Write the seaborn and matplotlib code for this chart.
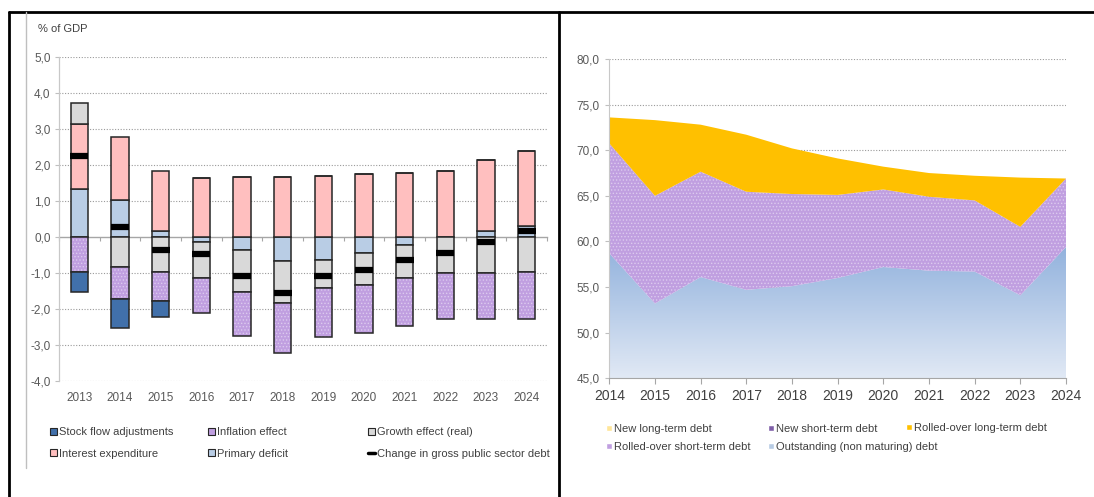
import numpy as np
import matplotlib
matplotlib.use("Agg")
import matplotlib.pyplot as plt
from matplotlib.lines import Line2D
from matplotlib.patches import Patch
from matplotlib.colors import LinearSegmentedColormap
from matplotlib.ticker import FuncFormatter
import seaborn as sns

# Left panel: drivers of the change in gross public debt (% of GDP)
years_left = [str(y) for y in range(2013, 2025)]
primary_deficit = [1.33, 1.02, 0.17, -0.13, -0.37, -0.67, -0.65, -0.46, -0.22, 0.0, 0.15, 0.30]
interest_expenditure = [1.81, 1.75, 1.65, 1.62, 1.65, 1.65, 1.70, 1.75, 1.77, 1.84, 1.97, 2.08]
growth_effect = [0.58, -0.84, -0.97, -1.02, -1.16, -1.16, -0.76, -0.88, -0.91, -0.99, -0.99, -0.97]
inflation_effect = [-0.97, -0.88, -0.81, -0.97, -1.21, -1.39, -1.37, -1.33, -1.33, -1.30, -1.30, -1.30]
stock_flow = [-0.55, -0.81, -0.44, 0.0, 0.0, 0.0, 0.0, 0.0, 0.0, 0.0, 0.0, 0.0]
debt_change = [2.25, 0.26, -0.37, -0.48, -1.09, -1.55, -1.09, -0.92, -0.64, -0.45, -0.15, 0.16]

# Right panel: composition of gross debt
years_right = list(range(2014, 2025))
outstanding_debt = [58.7, 53.2, 56.1, 54.7, 55.1, 56.0, 57.2, 56.8, 56.7, 54.1, 59.4]
rolled_short = [12.05, 11.8, 11.55, 10.75, 10.1, 9.1, 8.5, 8.1, 7.8, 7.5, 7.5]
rolled_long = [2.85, 8.3, 5.15, 6.25, 5.0, 4.0, 2.5, 2.6, 2.7, 5.4, 0.0]
new_short = [0.0] * 11
new_long = [0.0] * 11

sns.set_style("white")
plt.rcParams['font.family'] = ['Liberation Sans Narrow', 'Liberation Sans', 'DejaVu Sans']
plt.rcParams['hatch.linewidth'] = 0.6

W, H = 1094, 497
fig = plt.figure(figsize=(W / 100, H / 100), dpi=100)


def px_axes(x0, y0, x1, y1):
    # axes placed by pixel box (top-left origin)
    return fig.add_axes([x0 / W, 1 - y1 / H, (x1 - x0) / W, (y1 - y0) / H])


comma = FuncFormatter(lambda v, p: f"{v:.1f}".replace('.', ','))
txt_col = '#595959'
grid_col = '#9a9a9a'
purple = '#c09fe0'

# ---------------- left chart ----------------
ax = px_axes(59, 56.7, 547, 381)
x = np.arange(len(years_left))
bw = 0.42
edge = '#262626'
series = [
    (primary_deficit, '#b9cde5', False),
    (interest_expenditure, '#ffbfbf', False),
    (growth_effect, '#d9d9d9', False),
    (inflation_effect, purple, True),
    (stock_flow, '#4170aa', False),
]
pos = np.zeros(len(x))
neg = np.zeros(len(x))
for vals, col, dotted in series:
    v = np.array(vals)
    base = np.where(v >= 0, pos, neg)
    if dotted:
        ax.bar(x, v, width=bw, bottom=base, color=col, hatch='.....',
               edgecolor='#dccbef', linewidth=0, zorder=3)
        ax.bar(x, v, width=bw, bottom=base, fill=False, edgecolor=edge,
               linewidth=1.1, zorder=3)
    else:
        ax.bar(x, v, width=bw, bottom=base, color=col, edgecolor=edge,
               linewidth=1.1, zorder=3)
    pos += np.clip(v, 0, None)
    neg += np.clip(v, None, 0)

ax.plot(x, debt_change, ls='none', marker='_', ms=12.5, mew=4.5,
        color='black', zorder=4)

ax.set_ylim(-4, 5)
ax.set_xlim(-0.5, len(x) - 0.5)
ax.set_yticks(np.arange(-4, 6))
ax.yaxis.set_major_formatter(comma)
for v in np.arange(-4, 6):
    if v != 0:
        ax.axhline(v, color=grid_col, lw=0.8, ls=(0, (1, 1.5)), zorder=1)
ax.set_xticks(x)
ax.set_xticklabels(years_left)
ax.tick_params(axis='x', length=0, pad=8, labelsize=8.5, labelcolor=txt_col)
ax.tick_params(axis='y', length=3, width=0.8, color='#bfbfbf', direction='out',
               pad=3, labelsize=8.5, labelcolor=txt_col, left=True)
sns.despine(ax=ax, top=True, right=True, bottom=True)
ax.spines['left'].set_color('#c8c8c8')
ax.spines['left'].set_linewidth(0.9)

# zero line with category separators
zero = ax.secondary_xaxis(4 / 9)
zero.set_xticks(np.arange(len(x) + 1) - 0.5)
zero.set_xticklabels([])
zero.tick_params(length=3, color='#a6a6a6', width=0.8, direction='out')
zero.spines['bottom'].set_color('#a6a6a6')
zero.spines['bottom'].set_linewidth(1.0)

fig.text(38 / W, 1 - 29 / H, '% of GDP', fontsize=8, color='#404040', va='center')

lh = [
    [(Patch(facecolor='#4170aa', edgecolor=edge, lw=0.8), 'Stock flow adjustments'),
     (Patch(facecolor='#ffbfbf', edgecolor=edge, lw=0.8), 'Interest expenditure')],
    [(Patch(facecolor=purple, edgecolor=edge, lw=0.8), 'Inflation effect'),
     (Patch(facecolor='#b9cde5', edgecolor=edge, lw=0.8), 'Primary deficit')],
    [(Patch(facecolor='#d9d9d9', edgecolor=edge, lw=0.8), 'Growth effect (real)'),
     (Line2D([], [], color='black', lw=2.5), 'Change in gross public sector debt')],
]
for cx, col in zip([50, 208, 368], lh):
    fig.legend([h for h, _ in col], [t for _, t in col], loc='center left',
               bbox_to_anchor=(cx / W, 1 - 443 / H), frameon=False, fontsize=8,
               handlelength=0.6, handleheight=0.6, handletextpad=0.2,
               labelspacing=1.0, borderpad=0, borderaxespad=0, labelcolor='#404040')

# ---------------- right chart ----------------
ax2 = px_axes(609.3, 59, 1066, 378.3)
xr = np.array(years_right)
l1 = np.array(outstanding_debt)
l2 = l1 + np.array(rolled_short)
l3 = l2 + np.array(rolled_long)
l4 = l3 + np.array(new_short)
l5 = l4 + np.array(new_long)

for v in range(50, 85, 5):
    ax2.axhline(v, color=grid_col, lw=0.8, ls=(0, (1, 1.5)), zorder=1)

blue_poly = ax2.fill_between(xr, 0, l1, facecolor='none', edgecolor='none', zorder=2)
blue_cmap = LinearSegmentedColormap.from_list('b', ['#e1e9f5', '#8fb0dc'])
grad = np.linspace(0, 1, 256).reshape(-1, 1)
im = ax2.imshow(grad, extent=[2014, 2024, 45, 60], origin='lower', aspect='auto',
                cmap=blue_cmap, zorder=2)
im.set_clip_path(blue_poly.get_paths()[0], transform=ax2.transData)
ax2.fill_between(xr, l1, l2, facecolor=purple, hatch='.....',
                 edgecolor='#dccbef', linewidth=0, zorder=2)
ax2.fill_between(xr, l2, l3, facecolor='#ffc000', edgecolor='none', zorder=2)
ax2.fill_between(xr, l3, l4, facecolor='#7f5fa8', edgecolor='none', zorder=2)
ax2.fill_between(xr, l4, l5, facecolor='#ffe699', edgecolor='none', zorder=2)

ax2.set_xlim(2014, 2024)
ax2.set_ylim(45, 80)
ax2.set_xticks(xr)
ax2.set_yticks(np.arange(45, 85, 5))
ax2.yaxis.set_major_formatter(comma)
ax2.tick_params(axis='x', length=4, width=0.8, color='#a6a6a6', direction='out',
                pad=4, labelsize=10, labelcolor='#404040', bottom=True)
ax2.tick_params(axis='y', length=3, width=0.8, color='#bfbfbf', direction='out',
                pad=4, labelsize=8.5, labelcolor=txt_col, left=True)
sns.despine(ax=ax2, top=True, right=True)
ax2.spines['left'].set_color('#c8c8c8')
ax2.spines['bottom'].set_color('#a6a6a6')

rh = [
    [(Patch(facecolor='#ffe699'), 'New long-term debt'),
     (Patch(facecolor=purple), 'Rolled-over short-term debt')],
    [(Patch(facecolor='#7f5fa8'), 'New short-term debt'),
     (Patch(facecolor='#b8cce4'), 'Outstanding (non maturing) debt')],
    [(Patch(facecolor='#ffc000'), 'Rolled-over long-term debt')],
]
for cx, col, cy in zip([606, 768, 906], rh, [438, 438, 428]):
    fig.legend([h for h, _ in col], [t for _, t in col], loc='center left',
               bbox_to_anchor=(cx / W, 1 - cy / H), frameon=False, fontsize=8,
               handlelength=0.5, handleheight=0.5, handletextpad=0.2,
               labelspacing=0.75, borderpad=0, borderaxespad=0, labelcolor='#404040')

# panel frame lines
fig.add_artist(Line2D([9 / W, 1], [1 - 12 / H] * 2, color='black', lw=2))
fig.add_artist(Line2D([9 / W] * 2, [0, 1 - 12 / H], color='black', lw=2))
fig.add_artist(Line2D([559 / W] * 2, [0, 1 - 12 / H], color='black', lw=2))
fig.add_artist(Line2D([26 / W] * 2, [1 - 468 / H, 1 - 12 / H], color='#bfbfbf', lw=1))

fig.savefig('out.png', dpi=100)
